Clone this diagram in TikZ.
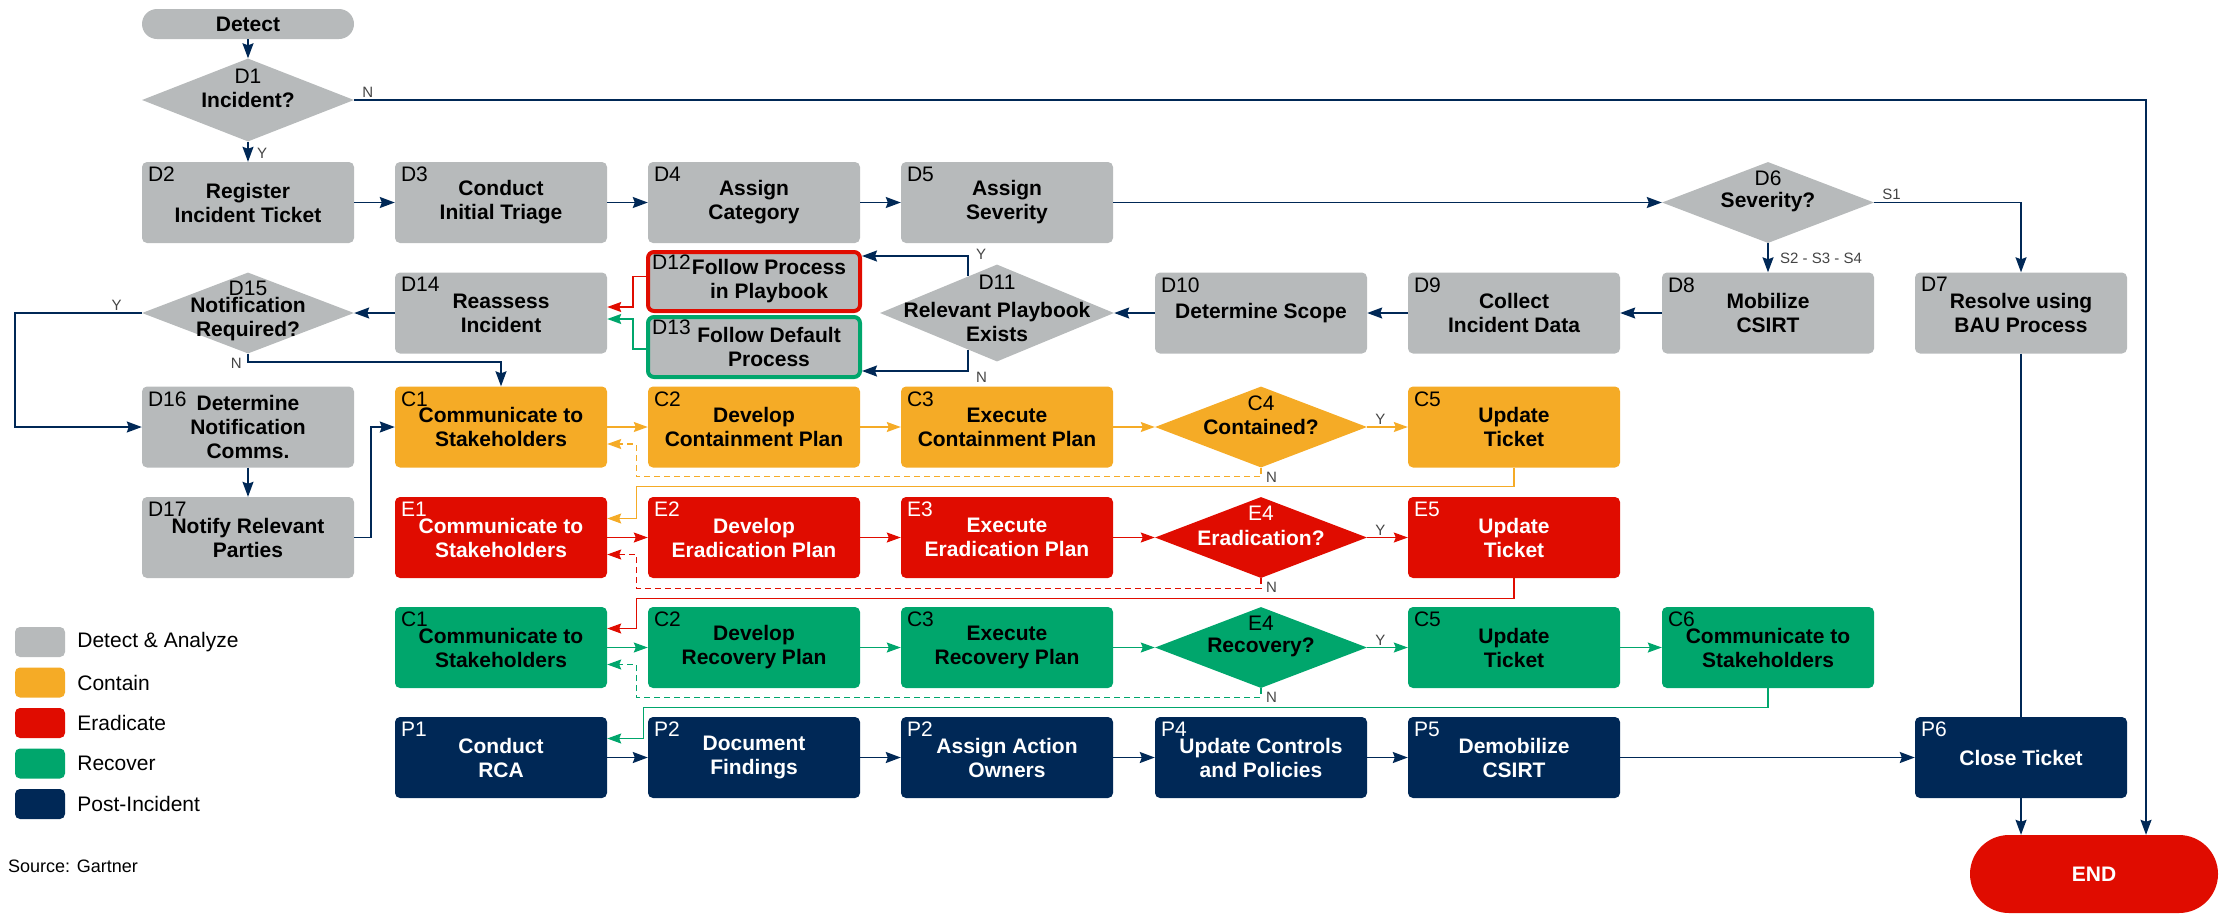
\documentclass[tikz,border=0pt]{standalone}
\usepackage{fontspec}
\setmainfont{Liberation Sans}
\usetikzlibrary{arrows.meta,calc,positioning,shapes.geometric}

\definecolor{dagray}{HTML}{B7BABB}
\definecolor{corange}{HTML}{F5AB26}
\definecolor{ered}{HTML}{E00C00}
\definecolor{rgreen}{HTML}{00A66C}
\definecolor{pnavy}{HTML}{002856}
\definecolor{ynink}{HTML}{444444}

\newcommand\boxtitlefont{\fontsize{21}{24}\selectfont\bfseries}
\newcommand\boxtagfont{\fontsize{21}{24}\selectfont}
\newcommand\yesnofont{\fontsize{15}{17}\selectfont}
\newcommand\legendfont{\fontsize{21}{24}\selectfont}
\newcommand\sourcefont{\fontsize{18}{20}\selectfont}

\begin{document}
\begin{tikzpicture}[x=1pt, y=-1pt,
	box/.style={rectangle, rounded corners=5pt, minimum width=212pt, minimum height=81pt, inner sep=0pt, align=center, font=\boxtitlefont},
	tagtext/.style={font=\boxtagfont, inner sep=0pt, anchor=north west, xshift=6pt, yshift=-5pt},
	gbox/.style={box, fill=dagray, label={[tagtext]north west:#1}},
	obox/.style={box, fill=corange, label={[tagtext]north west:#1}},
	rbox/.style={box, fill=ered, text=white, label={[tagtext, text=white]north west:#1}},
	gnbox/.style={box, fill=rgreen, label={[tagtext]north west:#1}},
	pbox/.style={box, fill=pnavy, text=white, label={[tagtext, text=white]north west:#1}},
	dia/.style n args={3}{diamond, aspect=2.6, inner xsep=-90pt, inner ysep=-30pt, minimum width=212pt, minimum height=81pt, align=center, font=\boxtitlefont, label={[font=\boxtagfont, inner sep=0pt, text=#3, yshift=#2]center:#1}},
	diatitle/.style={font=\boxtitlefont, align=center, inner sep=0pt},
	pill/.style={rectangle, inner sep=0pt, font=\boxtitlefont},
	flow/.style={draw=pnavy, line width=1.6pt, -{Stealth[length=15pt, width=11pt, inset=2pt]}},
	link/.style={draw=pnavy, line width=1.6pt},
	oflow/.style={draw=corange, line width=1.4pt, -{Stealth[length=14pt, width=10pt, inset=2pt]}},
	odash/.style={oflow, dash pattern=on 6pt off 4pt},
	rflow/.style={draw=ered, line width=1.4pt, -{Stealth[length=14pt, width=10pt, inset=2pt]}},
	rdash/.style={rflow, dash pattern=on 6pt off 4pt},
	gflow/.style={draw=rgreen, line width=1.4pt, -{Stealth[length=14pt, width=10pt, inset=2pt]}},
	gdash/.style={gflow, dash pattern=on 6pt off 4pt},
	yn/.style={font=\yesnofont, text=ynink, inner sep=0pt},
	swatch/.style={rectangle, rounded corners=5pt, minimum width=50pt, minimum height=30pt, inner sep=0pt},
	legtext/.style={font=\legendfont, inner sep=0pt, anchor=west}]
	%%%%% START %%%%%

	\useasboundingbox (0,0) rectangle (2227,914);

	% detect and analyze
	\node[pill, rounded corners=15pt, minimum width=212pt, minimum height=30pt, fill=dagray] (detect) at (248,24) {Detect};
	\node[dia={D1}{24pt}{black}, minimum height=83pt, fill=dagray] (d1) at (248,100) {Incident?};

	\node[gbox=D2] (d2) at (248,202.5) {Register\\Incident Ticket};
	\node[gbox=D3] (d3) at (501,202.5) {Conduct\\Initial Triage};
	\node[gbox=D4] (d4) at (754,202.5) {Assign\\Category};
	\node[gbox=D5] (d5) at (1007,202.5) {Assign\\Severity};
	\node[dia={D6}{24pt}{black}, fill=dagray] (d6) at (1768,202.5) {Severity?};

	\node[gbox=D7] (d7) at (2021,313) {Resolve using\\BAU Process};
	\node[gbox=D8] (d8) at (1768,313) {Mobilize\\CSIRT};
	\node[gbox=D9] (d9) at (1514,313) {Collect\\Incident Data};
	\node[gbox=D10] (d10) at (1261,313) {Determine Scope};
	\node[dia={D11}{31pt}{black}, minimum width=234pt, minimum height=97pt, fill=dagray,
		label={[diatitle, yshift=-9pt]center:{Relevant Playbook\\Exists}}] (d11) at (997,313) {};
	\node[gbox=D12, minimum height=59pt, draw=ered, line width=4pt, rounded corners=6pt] (d12) at (754,281.5) {\hspace*{30pt}Follow Process\\\hspace*{30pt}in Playbook};
	\node[gbox=D13, minimum height=60pt, draw=rgreen, line width=4pt, rounded corners=6pt] (d13) at (754,347) {\hspace*{30pt}Follow Default\\\hspace*{30pt}Process};
	\node[gbox=D14] (d14) at (501,313) {Reassess\\Incident};
	\node[dia={D15}{25pt}{black}, fill=dagray,
		label={[diatitle, yshift=-6pt]center:{Notification\\Required?}}] (d15) at (248,313) {};
	\node[gbox=D16] (d16) at (248,427) {Determine\\Notification\\Comms.};
	\node[gbox=D17] (d17) at (248,537.5) {Notify Relevant\\Parties};

	% contain
	\node[obox=C1] (c1) at (501,427) {Communicate to\\Stakeholders};
	\node[obox=C2] (c2) at (754,427) {Develop\\Containment Plan};
	\node[obox=C3] (c3) at (1007,427) {Execute\\Containment Plan};
	\node[dia={C4}{24pt}{black}, fill=corange] (c4) at (1261,427) {Contained?};
	\node[obox=C5] (c5) at (1514,427) {Update\\Ticket};

	% eradicate
	\node[rbox=E1] (e1) at (501,537.5) {Communicate to\\Stakeholders};
	\node[rbox=E2] (e2) at (754,537.5) {Develop\\Eradication Plan};
	\node[rbox=E3] (e3) at (1007,537.5) {Execute\\Eradication Plan};
	\node[dia={E4}{24pt}{white}, fill=ered, text=white] (e4) at (1261,537.5) {Eradication?};
	\node[rbox=E5] (e5) at (1514,537.5) {Update\\Ticket};

	% recover
	\node[gnbox=C1] (r1) at (501,647.5) {Communicate to\\Stakeholders};
	\node[gnbox=C2] (r2) at (754,647.5) {Develop\\Recovery Plan};
	\node[gnbox=C3] (r3) at (1007,647.5) {Execute\\Recovery Plan};
	\node[dia={E4}{24pt}{black}, fill=rgreen] (r4) at (1261,647.5) {Recovery?};
	\node[gnbox=C5] (r5) at (1514,647.5) {Update\\Ticket};
	\node[gnbox=C6] (r6) at (1768,647.5) {Communicate to\\Stakeholders};

	% post-incident
	\node[pbox=P1] (p1) at (501,757.5) {Conduct\\RCA};
	\node[pbox=P2] (p2) at (754,757.5) {Document\\Findings};
	\node[pbox=P2] (p3) at (1007,757.5) {Assign Action\\Owners};
	\node[pbox=P4] (p4) at (1261,757.5) {Update Controls\\and Policies};
	\node[pbox=P5] (p5) at (1514,757.5) {Demobilize\\CSIRT};
	\node[pbox=P6] (p6) at (2021,757.5) {Close Ticket};
	\node[pill, rounded corners=39pt, minimum width=248pt, minimum height=78pt, fill=ered, text=white] (enode) at (2094,874) {END};

	% connectors
	\draw[flow] (detect.south) -- (d1.north);
	\draw[flow] (d1.east) -| ([xshift=52pt]enode.north);
	\node[yn, above right=2pt and 8pt of d1.east] (d1n) {N};
	\draw[flow] (d1.south) -- (d2.north);
	\node[yn, below right=6pt and 9pt of d1.south] (d1y) {Y};
	\draw[flow] (d2) -- (d3);
	\draw[flow] (d3) -- (d4);
	\draw[flow] (d4) -- (d5);
	\draw[flow] (d5) -- (d6);
	\draw[flow] (d6.east) -| (d7.north);
	\node[yn, above right=3pt and 8pt of d6.east] (d6s) {S1};
	\draw[flow] (d6.south) -- (d8.north);
	\node[yn, below right=10pt and 12pt of d6.south] (d6o) {S2 - S3 - S4};
	\draw[flow] (d8) -- (d9);
	\draw[flow] (d9) -- (d10);
	\draw[flow] (d10) -- (d11);
	\draw[flow] (d11.128) |- node[yn, pos=0.5, anchor=west, xshift=7pt, yshift=2pt] (d11y) {Y} ([yshift=-6pt]d12.north east);
	\draw[flow] (d11.232) |- node[yn, pos=0.5, anchor=west, xshift=7pt, yshift=-6pt] (d11n) {N} ([yshift=8pt]d13.south east);
	\draw[rflow] ([yshift=5pt]d12.west) -- ++(-13,0) |- ([yshift=6pt]d14.east);
	\draw[gflow] ([yshift=-2pt]d13.west) -- ++(-13,0) |- ([yshift=-6pt]d14.east);
	\draw[flow] (d14) -- (d15);
	\draw[flow] (d15.west) -- ++(-127,0) |- (d16.west);
	\node[yn, above left=2pt and 20pt of d15.west] (d15y) {Y};
	\draw[flow] (d15.south) -- ++(0,8) -| (c1.north);
	\node[yn, below left=4pt and 6pt of d15.south] (d15n) {N};
	\draw[flow] (d16) -- (d17);
	\draw[flow] (d17.east) -- ++(17,0) |- (c1.west);

	\draw[oflow] (c1) -- (c2);
	\draw[oflow] (c2) -- (c3);
	\draw[oflow] (c3) -- (c4);
	\draw[oflow] (c4) -- (c5);
	\node[yn, above right=2pt and 8pt of c4.east] (c4y) {Y};
	\draw[odash] (c4.south) -- ++(0,9) -| ([xshift=29pt,yshift=-17pt]c1.east) -- ([yshift=-17pt]c1.east);
	\node[yn, below right=4pt and 5pt of c4.south] (c4n) {N};
	\draw[oflow] (c5.south) -- ++(0,19) -| ([xshift=29pt,yshift=19pt]e1.east) -- ([yshift=19pt]e1.east);

	\draw[rflow] (e1) -- (e2);
	\draw[rflow] (e2) -- (e3);
	\draw[rflow] (e3) -- (e4);
	\draw[rflow] (e4) -- (e5);
	\node[yn, above right=2pt and 8pt of e4.east] (e4y) {Y};
	\draw[rdash] (e4.south) -- ++(0,10) -| ([xshift=29pt,yshift=-17pt]e1.east) -- ([yshift=-17pt]e1.east);
	\node[yn, below right=4pt and 5pt of e4.south] (e4n) {N};
	\draw[rflow] (e5.south) -- ++(0,20) -| ([xshift=29pt,yshift=19pt]r1.east) -- ([yshift=19pt]r1.east);

	\draw[gflow] (r1) -- (r2);
	\draw[gflow] (r2) -- (r3);
	\draw[gflow] (r3) -- (r4);
	\draw[gflow] (r4) -- (r5);
	\draw[gflow] (r5) -- (r6);
	\node[yn, above right=2pt and 8pt of r4.east] (r4y) {Y};
	\draw[gdash] (r4.south) -- ++(0,9) -| ([xshift=29pt,yshift=-17pt]r1.east) -- ([yshift=-17pt]r1.east);
	\node[yn, below right=4pt and 5pt of r4.south] (r4n) {N};
	\draw[gflow] (r6.south) -- ++(0,19) -| ([xshift=36pt,yshift=19pt]p1.east) -- ([yshift=19pt]p1.east);

	\draw[flow] (p1) -- (p2);
	\draw[flow] (p2) -- (p3);
	\draw[flow] (p3) -- (p4);
	\draw[flow] (p4) -- (p5);
	\draw[flow] (p5) -- (p6);
	\draw[link] (d7) -- (p6);
	\draw[flow] (p6.south) -- (p6.south |- enode.north);

	% legend
	\node[swatch, fill=dagray] (lg1) at (40,642) {};
	\node[legtext, right=12pt of lg1] (lg1t) {Detect \& Analyze};
	\node[swatch, fill=corange] (lg2) at (40,682.5) {};
	\node[legtext, right=12pt of lg2] (lg2t) {Contain};
	\node[swatch, fill=ered] (lg3) at (40,723) {};
	\node[legtext, right=12pt of lg3] (lg3t) {Eradicate};
	\node[swatch, fill=rgreen] (lg4) at (40,763.5) {};
	\node[legtext, right=12pt of lg4] (lg4t) {Recover};
	\node[swatch, fill=pnavy] (lg5) at (40,804) {};
	\node[legtext, right=12pt of lg5] (lg5t) {Post-Incident};

	\node[anchor=west, inner sep=0pt, font=\sourcefont] (src) at (8,866) {Source: Gartner};

	%%%%% END %%%%%
\end{tikzpicture}
\end{document}
